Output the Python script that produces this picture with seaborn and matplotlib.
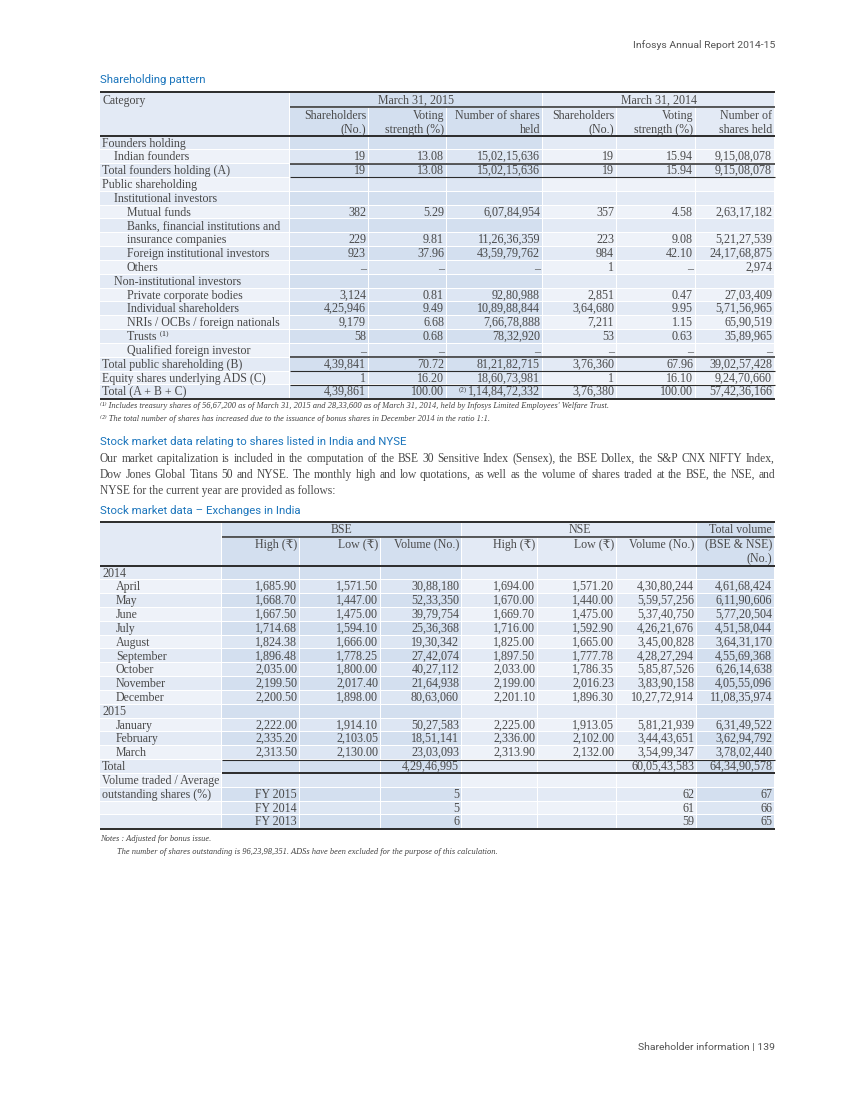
import numpy as np
import matplotlib.pyplot as plt
import seaborn as sns
from matplotlib.patches import Rectangle

# ---------------- Shareholding pattern ----------------
sh_labels = ["Founders holding", "Indian founders", "Total founders holding (A)",
             "Public shareholding", "Institutional investors", "Mutual funds",
             "Banks, financial institutions and", "insurance companies",
             "Foreign institutional investors", "Others", "Non-institutional investors",
             "Private corporate bodies", "Individual shareholders",
             "NRIs / OCBs / foreign nationals", "Trusts \u207d\u00b9\u207e", "Qualified foreign investor",
             "Total public shareholding (B)", "Equity shares underlying ADS (C)",
             "Total (A + B + C)"]
sh_level = [0, 1, 0, 0, 1, 2, 2, 2, 2, 2, 1, 2, 2, 2, 2, 2, 0, 0, 0]
N = None
D = np.nan  # printed as a dash
holders_2015 = [N, 19, 19, N, N, 382, N, 229, 923, D, N, 3124, 425946, 9179, 58, D, 439841, 1, 439861]
voting_2015 = [N, 13.08, 13.08, N, N, 5.29, N, 9.81, 37.96, D, N, 0.81, 9.49, 6.68, 0.68, D, 70.72, 16.20, 100.00]
shares_2015 = [N, 150215636, 150215636, N, N, 60784954, N, 112636359, 435979762, D, N, 9280988,
               108988844, 76678888, 7832920, D, 812182715, 186073981, 1148472332]
holders_2014 = [N, 19, 19, N, N, 357, N, 223, 984, 1, N, 2851, 364680, 7211, 53, D, 376360, 1, 376380]
voting_2014 = [N, 15.94, 15.94, N, N, 4.58, N, 9.08, 42.10, D, N, 0.47, 9.95, 1.15, 0.63, D, 67.96, 16.10, 100.00]
shares_2014 = [N, 91508078, 91508078, N, N, 26317182, N, 52127539, 241768875, 2974, N, 2703409,
               57156965, 6590519, 3589965, D, 390257428, 92470660, 574236166]
sh_headers = [("Shareholders", "(No.)"), ("Voting", "strength (%)"), ("Number of shares", "held"),
              ("Shareholders", "(No.)"), ("Voting", "strength (%)"), ("Number of", "shares held")]

# ---------------- Stock market data ----------------
years = ["2014", "2015"]
months = [["April", "May", "June", "July", "August", "September", "October", "November", "December"],
          ["January", "February", "March"]]
bse_high = [1685.90, 1668.70, 1667.50, 1714.68, 1824.38, 1896.48, 2035.00, 2199.50, 2200.50,
            2222.00, 2335.20, 2313.50]
bse_low = [1571.50, 1447.00, 1475.00, 1594.10, 1666.00, 1778.25, 1800.00, 2017.40, 1898.00,
           1914.10, 2103.05, 2130.00]
bse_vol = [3088180, 5233350, 3979754, 2536368, 1930342, 2742074, 4027112, 2164938, 8063060,
           5027583, 1851141, 2303093]
nse_high = [1694.00, 1670.00, 1669.70, 1716.00, 1825.00, 1897.50, 2033.00, 2199.00, 2201.10,
            2225.00, 2336.00, 2313.90]
nse_low = [1571.20, 1440.00, 1475.00, 1592.90, 1665.00, 1777.78, 1786.35, 2016.23, 1896.30,
           1913.05, 2102.00, 2132.00]
nse_vol = [43080244, 55957256, 53740750, 42621676, 34500828, 42827294, 58587526, 38390158, 102772914,
           58121939, 34443651, 35499347]
total_vol = [46168424, 61190606, 57720504, 45158044, 36431170, 45569368, 62614638, 40555096, 110835974,
             63149522, 36294792, 37802440]
fy_labels = ["FY 2015", "FY 2014", "FY 2013"]
bse_turnover = [5, 5, 6]
nse_turnover = [62, 61, 59]
total_turnover = [67, 66, 65]
mk_headers = ["High (\u20b9)", "Low (\u20b9)", "Volume (No.)", "High (\u20b9)", "Low (\u20b9)", "Volume (No.)"]

footnotes = ["\u207d\u00b9\u207e Includes treasury shares of 56,67,200 as of March 31, 2015 and 28,33,600 as of March 31, 2014, "
             "held by Infosys Limited Employees' Welfare Trust.",
             "\u207d\u00b2\u207e The total number of shares has increased due to the issuance of bonus shares in December 2014 in the ratio 1:1."]
paragraph = ["Our market capitalization is included in the computation of the BSE 30 Sensitive Index (Sensex), "
             "the BSE Dollex, the S&P CNX NIFTY Index,",
             "Dow Jones Global Titans 50 and NYSE. The monthly high and low quotations, as well as the volume "
             "of shares traded at the BSE, the NSE, and",
             "NYSE for the current year are provided as follows:"]


def inr(v, dec=0):
    if v is None:
        return ""
    if isinstance(v, float) and np.isnan(v):
        return "\u2013"
    s = f"{v:.{dec}f}"
    ip, _, fp = s.partition(".")
    if len(ip) > 3:
        head, tail = ip[:-3], ip[-3:]
        groups = []
        while len(head) > 2:
            groups.insert(0, head[-2:])
            head = head[:-2]
        if head:
            groups.insert(0, head)
        ip = ",".join(groups + [tail])
    return ip + ("." + fp if fp else "")


sns.set_theme(style="white")
SERIF = "Liberation Serif"
SERIF_FB = ["Liberation Serif", "DejaVu Serif", "DejaVu Sans"]
SANS = "Roboto"
plt.rcParams["font.family"] = SERIF_FB
plt.rcParams["text.hinting"] = "no_autohint"  # keeps digits and commas on one baseline
TXT = "#474747"
BLUE = "#1b75bc"
LIGHT = ["#e3eaf5", "#eef2f9"]
DARK = ["#d3dfef", "#dde6f3"]
FS = 8.6

fig = plt.figure(figsize=(8.5, 11), dpi=100)
ax = fig.add_axes([0, 0, 1, 1])
ax.set_xlim(0, 850)
ax.set_ylim(1100, 0)
ax.axis("off")


def put(x, y, s, ha="right", size=FS, family=None, color=TXT, **kw):
    # y is the visual middle of a line; place the text on the baseline below it
    if family is None:
        family = SERIF if s.isascii() else SERIF_FB
    return ax.text(x, y + size * 0.42, s, ha=ha, va="baseline", fontsize=size, family=family,
                   color=color, **kw)


def justify(x0, x1, y, line, size):
    words = line.split(" ")
    rend = fig.canvas.get_renderer()
    arts = [put(x0, y, w, ha="left", size=size) for w in words]
    widths = [a.get_window_extent(rend).width for a in arts]
    gap = (x1 - x0 - sum(widths)) / (len(words) - 1)
    x = x0
    for a, w in zip(arts, widths):
        a.set_x(x)
        x += w + gap


def cell(x0, x1, y0, y1, color):
    ax.add_patch(Rectangle((x0 + 0.5, y0 + 0.5), x1 - x0 - 1, y1 - y0 - 1, color=color, lw=0))


def rule(x0, x1, y, lw=1.1):
    ax.plot([x0, x1], [y, y], color="#2b2b2b", lw=lw, solid_capstyle="butt")


RH = 13.83

# header texts
put(775, 45, "Infosys Annual Report 2014-15", size=7.5, family=SANS, color="#555555")
put(100, 80, "Shareholding pattern", ha="left", size=8.2, family=SANS, color=BLUE)

# ---- table 1 ----
edges1 = [100, 290, 369, 447, 543, 617, 696, 775]
dark1 = [1, 2, 3]
top1, sub1, body1 = 92, 107, 136
cell(100, 290, top1, body1, LIGHT[0])
cell(290, 543, top1, sub1, DARK[0])
cell(543, 775, top1, sub1, LIGHT[0])
for c in range(1, 7):
    cell(edges1[c], edges1[c + 1], sub1, body1, DARK[0] if c in dark1 else LIGHT[0])
put(103, 100, "Category", ha="left")
put((290 + 543) / 2, 100, "March 31, 2015", ha="center")
put((543 + 775) / 2, 100, "March 31, 2014", ha="center")
for c, (l1, l2) in enumerate(sh_headers, start=1):
    put(edges1[c + 1] - 3, 115, l1)
    put(edges1[c + 1] - 3, 129, l2)

cols1 = [(holders_2015, 0), (voting_2015, 2), (shares_2015, 0),
         (holders_2014, 0), (voting_2014, 2), (shares_2014, 0)]
for i, lab in enumerate(sh_labels):
    y0 = body1 + i * RH
    yc = y0 + RH / 2
    for c in range(7):
        cell(edges1[c], edges1[c + 1], y0, y0 + RH, (DARK if c in dark1 else LIGHT)[i % 2])
    put(102 + 12.5 * sh_level[i], yc, lab, ha="left")
    for c, (vals, dec) in enumerate(cols1, start=1):
        txt = inr(vals[i], dec)
        if c == 3 and i == len(sh_labels) - 1:
            put(edges1[c] + 12, yc - 2, "(2)", ha="left", size=5)
        put(edges1[c + 1] - 3, yc, txt)

rule(100, 775, top1, 1.4)
rule(290, 775, sub1, 1.1)
rule(100, 775, body1, 1.4)
for r, lw in [(2, 1.1), (3, 0.8), (16, 1.1), (17, 0.8), (18, 0.8)]:
    rule(290, 775, body1 + r * RH, lw)
rule(100, 775, body1 + len(sh_labels) * RH, 1.4)

for k, note in enumerate(footnotes):
    put(100, 405 + 13 * k, note, ha="left", size=6, style="italic")

put(100, 442, "Stock market data relating to shares listed in India and NYSE", ha="left",
    size=8.2, family=SANS, color=BLUE)
for k, line in enumerate(paragraph):
    if k < len(paragraph) - 1:
        justify(100, 775, 459 + 16 * k, line, 8.3)
    else:
        put(100, 459 + 16 * k, line, ha="left", size=8.3)
put(100, 511, "Stock market data \u2013 Exchanges in India", ha="left", size=8.2, family=SANS, color=BLUE)

# ---- table 2 ----
edges2 = [100, 222, 300, 381, 462, 538, 617, 697, 775]
dark2 = [1, 2, 3, 7]
top2, sub2, body2 = 522, 537, 566
cell(100, 222, top2, body2, LIGHT[0])
cell(222, 462, top2, sub2, DARK[0])
cell(462, 697, top2, sub2, LIGHT[0])
cell(697, 775, top2, body2, DARK[0])
for c in range(1, 7):
    cell(edges2[c], edges2[c + 1], sub2, body2, DARK[0] if c in dark2 else LIGHT[0])
put((222 + 462) / 2, 529, "BSE", ha="center")
put((462 + 697) / 2, 529, "NSE", ha="center")
put(772, 529, "Total volume")
for c, h in enumerate(mk_headers, start=1):
    put(edges2[c + 1] - 3, 544, h)
put(772, 544, "(BSE & NSE)")
put(772, 558, "(No.)")

rows2 = []
m = 0
for yr, mons in zip(years, months):
    rows2.append((yr, 0, None))
    for mon in mons:
        rows2.append((mon, 1, [inr(bse_high[m], 2), inr(bse_low[m], 2), inr(bse_vol[m]),
                               inr(nse_high[m], 2), inr(nse_low[m], 2), inr(nse_vol[m]), inr(total_vol[m])]))
        m += 1
rows2.append(("Total", 0, ["", "", inr(sum(bse_vol)), "", "", inr(sum(nse_vol)), inr(sum(total_vol))]))
rows2.append(("Volume traded / Average", 0, None))
for k, fy in enumerate(fy_labels):
    lab = "outstanding shares (%)" if k == 0 else ""
    rows2.append((lab, 0, [fy, "", str(bse_turnover[k]), "", "", str(nse_turnover[k]), str(total_turnover[k])]))

for i, (lab, lvl, vals) in enumerate(rows2):
    y0 = body2 + i * RH
    yc = y0 + RH / 2
    for c in range(8):
        cell(edges2[c], edges2[c + 1], y0, y0 + RH, (DARK if c in dark2 else LIGHT)[i % 2])
    put(102 + 14 * lvl, yc, lab, ha="left")
    if vals:
        for c, v in enumerate(vals, start=1):
            put(edges2[c + 1] - 3, yc, v)

rule(100, 775, top2, 1.4)
rule(222, 775, sub2, 1.1)
rule(100, 775, body2, 1.4)
rule(222, 775, body2 + 14 * RH, 0.8)
rule(222, 775, body2 + 15 * RH, 1.4)
rule(100, 775, body2 + len(rows2) * RH, 1.4)

put(100, 838, "Notes : Adjusted for bonus issue.", ha="left", size=6, style="italic")
put(117, 851, "The number of shares outstanding is 96,23,98,351. ADSs have been excluded for the purpose of this calculation.",
    ha="left", size=6, style="italic")

put(775, 1047, "Shareholder information | 139", size=7.5, family=SANS, color="#555555")

fig.savefig("out.png", dpi=100)
